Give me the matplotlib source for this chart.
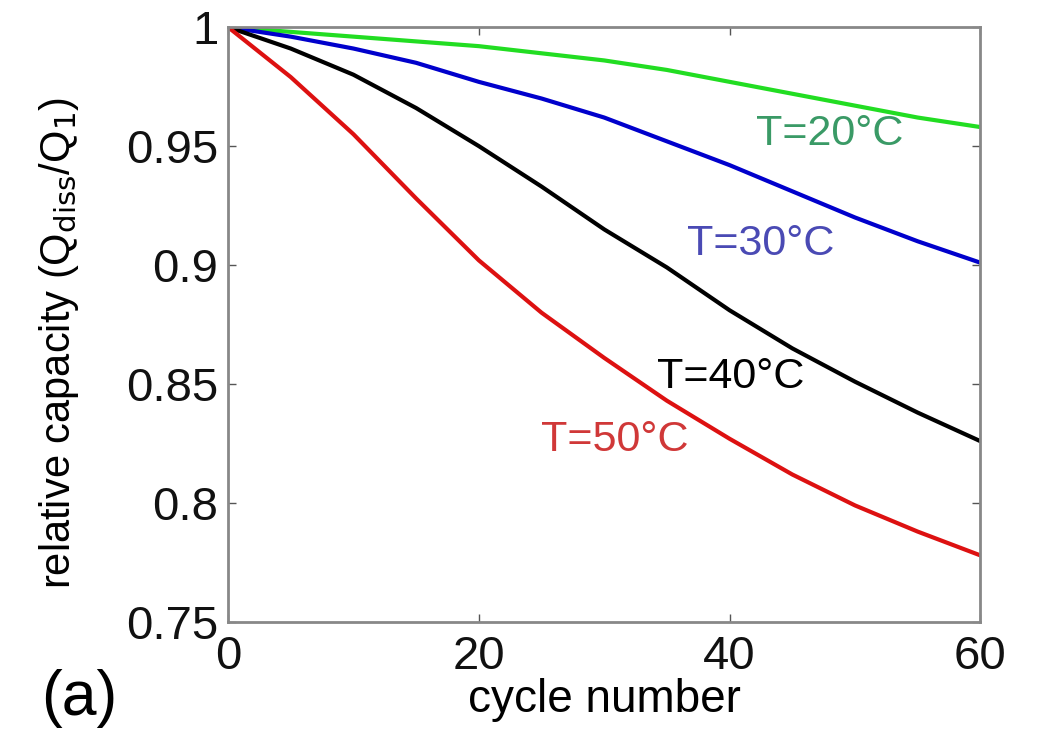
import numpy as np
import matplotlib
matplotlib.use("Agg")
import matplotlib.pyplot as plt

plt.rcParams['font.family'] = ['Liberation Sans', 'DejaVu Sans']

cycles = [0, 5, 10, 15, 20, 25, 30, 35, 40, 45, 50, 55, 60]
cap_20 = [1, 0.998, 0.996, 0.994, 0.992, 0.989, 0.986, 0.982, 0.977, 0.972, 0.967, 0.962, 0.958]
cap_30 = [1, 0.996, 0.991, 0.985, 0.977, 0.970, 0.962, 0.952, 0.942, 0.931, 0.920, 0.910, 0.901]
cap_40 = [1, 0.991, 0.980, 0.966, 0.950, 0.933, 0.915, 0.899, 0.881, 0.865, 0.851, 0.838, 0.826]
cap_50 = [1, 0.979, 0.955, 0.928, 0.902, 0.880, 0.861, 0.843, 0.827, 0.812, 0.799, 0.788, 0.778]

labels = ["T=20°C", "T=30°C", "T=40°C", "T=50°C"]
label_pos = [(48.0, 0.955), (42.5, 0.909), (40.1, 0.853), (30.8, 0.8265)]

line_colors = ["#22dd22", "#0000cc", "#000000", "#dd1111"]
text_colors = ["#3a9a66", "#4a4ab4", "#000000", "#d03838"]

fig = plt.figure(figsize=(10.38, 7.33), dpi=100)
ax = fig.add_axes([0.2197, 0.1514, 0.7248, 0.8116])

for y, c in zip([cap_20, cap_30, cap_40, cap_50], line_colors):
    ax.plot(cycles, y, color=c, linewidth=3)

for (lx, ly), txt, c in zip(label_pos, labels, text_colors):
    ax.text(lx, ly, txt, color=c, fontsize=31, ha="center", va="center")

ax.set_xlim(0, 60)
ax.set_ylim(0.75, 1)
ax.set_xticks([0, 20, 40, 60])
ax.set_yticks([0.75, 0.8, 0.85, 0.9, 0.95, 1])
ax.set_yticklabels(["0.75", "0.8", "0.85", "0.9", "0.95", "1"])
ax.tick_params(direction="in", length=6, width=1, colors="#555555",
               labelcolor="#111111", labelsize=34, top=True, right=True)
ax.tick_params(axis="x", pad=9)
ax.tick_params(axis="y", pad=7)
for s in ax.spines.values():
    s.set_color("#888888")
    s.set_linewidth(2)

ax.set_xlabel("cycle number", fontsize=33)
ax.xaxis.set_label_coords(0.5, -0.094)
ax.set_ylabel("relative capacity (Q$_{\\rm diss}$/Q$_1$)", fontsize=30)
ax.yaxis.set_label_coords(-0.195, 0.469)
fig.text(0.04, 0.025, "(a)", fontsize=45)

fig.savefig("out.png", dpi=100)
